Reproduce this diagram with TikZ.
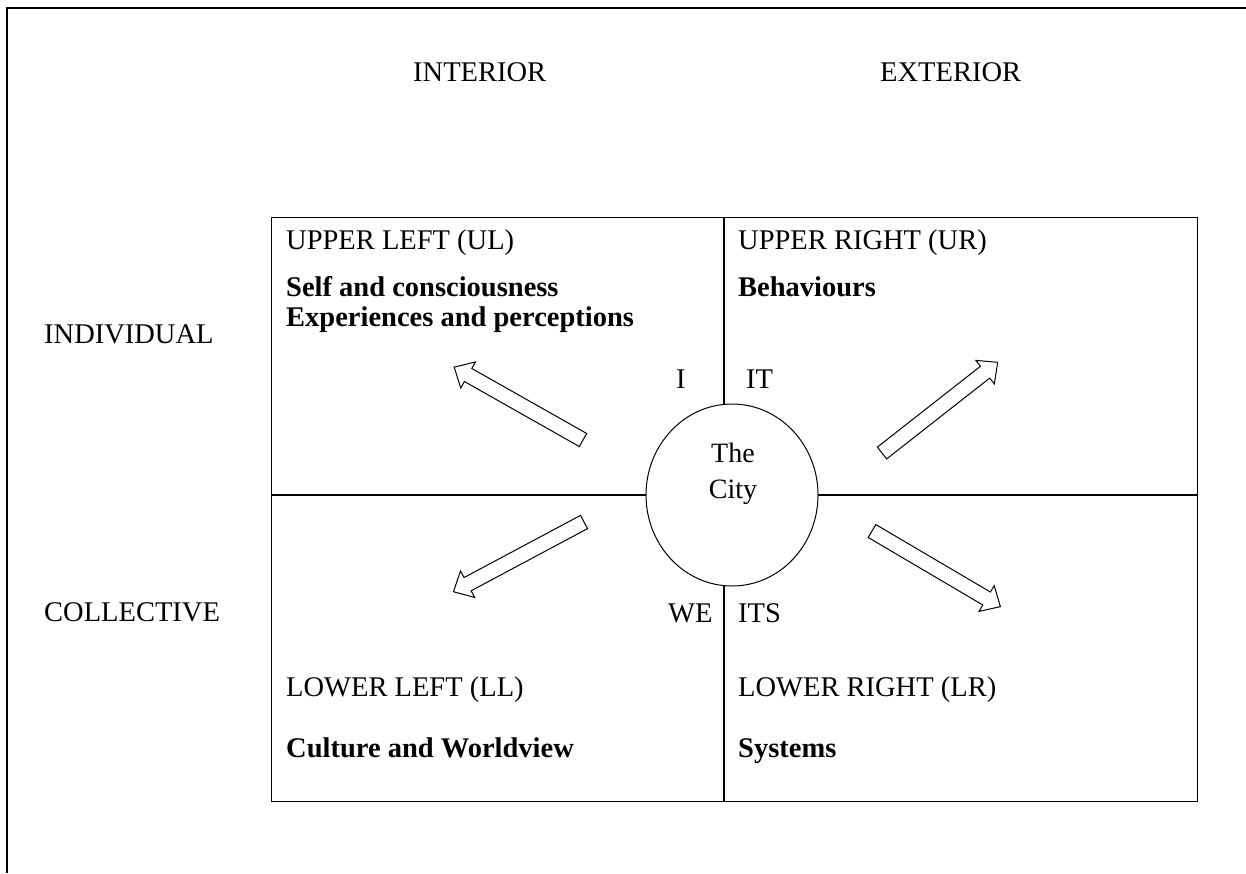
\documentclass[tikz,border=0pt]{standalone}
\usepackage{fontspec}
\setmainfont{Liberation Serif}
\usetikzlibrary{shapes.geometric}
\newcommand\BlkArrow[4]{%
  \begin{scope}[shift={(#1,#2)}, rotate=#3]
    \draw[blockarr] (0,7.5) -- ({#4-16},7.5) -- ({#4-16},15) -- (#4,0) -- ({#4-16},-15) -- ({#4-16},-7.5) -- (0,-7.5) -- cycle;
  \end{scope}}
\begin{document}
\begin{tikzpicture}[x=1pt,y=1pt,
  lbl/.style={anchor=base west, inner sep=0pt, font=\fontsize{28.5}{30}\selectfont},
  bl/.style={anchor=base west, inner sep=0pt, font=\fontsize{28.5}{30}\selectfont\bfseries},
  ctext/.style={anchor=base, inner sep=0pt, font=\fontsize{28}{30}\selectfont},
  blockarr/.style={draw, line width=1pt, fill=white, line join=miter},
  thinline/.style={line width=1.3pt}]
\useasboundingbox (0,0) rectangle (1246,-873);
% outer frame (top and left)
\draw[line width=2.5pt] (7,-873) -- (7,-8) -- (1246,-8);
% quadrant frame
\node[draw, thinline, minimum width=926, minimum height=584, inner sep=0, anchor=north west] (frame) at (271,-217) {};
\coordinate (vtop) at (724,-217);
\coordinate (vbot) at (724,-801);
\coordinate (hl) at (271,-495);
\coordinate (hr) at (1197,-495);
\draw[thinline] (vtop) -- (vbot);
\draw[thinline] (hl) -- (hr);
\node[draw, ellipse, line width=1pt, fill=white, minimum width=172, minimum height=182, inner sep=0] (city) at (732,-495) {};
\node[ctext] (the) at (733,-462) {The};
\node[ctext] (cty) at (733,-498) {City};
% headings
\node[lbl] (int) at (413,-81) {INTERIOR};
\node[lbl] (ext) at (880,-81) {EXTERIOR};
\node[lbl] (ind) at (44,-343) {INDIVIDUAL};
\node[lbl] (col) at (44,-621) {COLLECTIVE};
% quadrant texts
\node[lbl] (ul) at (286,-249) {UPPER LEFT (UL)};
\node[bl] (ul1) at (286,-296) {Self and consciousness};
\node[bl] (ul2) at (286,-326) {Experiences and perceptions};
\node[lbl] (ur) at (738,-249) {UPPER RIGHT (UR)};
\node[bl] (ur1) at (738,-296) {Behaviours};
\node[lbl] (ll) at (286,-696) {LOWER LEFT (LL)};
\node[bl] (ll1) at (286,-757) {Culture and Worldview};
\node[lbl] (lr) at (738,-696) {LOWER RIGHT (LR)};
\node[bl] (lr1) at (738,-757) {Systems};
\node[lbl] (i) at (676,-388) {I};
\node[lbl] (it) at (746,-388) {IT};
\node[lbl] (we) at (668,-622) {WE};
\node[lbl] (its) at (738,-622) {ITS};
% block arrows
\BlkArrow{583}{-440}{150.5}{148}
\BlkArrow{882}{-453}{38.1}{147}
\BlkArrow{584}{-522}{208.1}{148}
\BlkArrow{872}{-531}{-30.5}{149}
\end{tikzpicture}
\end{document}
